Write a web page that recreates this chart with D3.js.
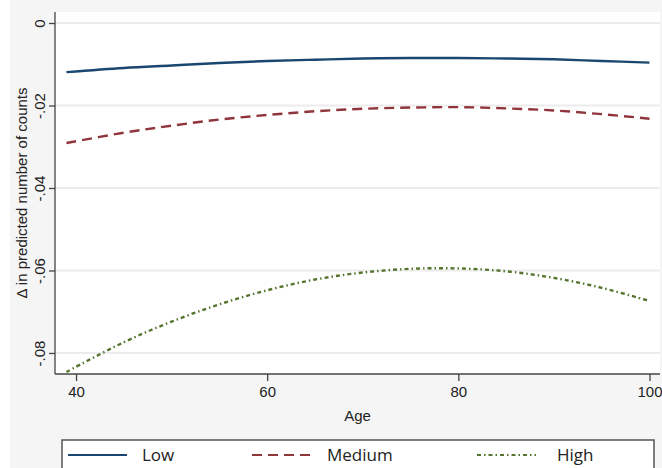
<!DOCTYPE html>
<html>
<head>
<meta charset="utf-8">
<script src="https://cdn.jsdelivr.net/npm/d3@7"></script>
<style>
  body { margin: 0; background: #fff; }
  text { font-family: "Liberation Sans", Arial, sans-serif; fill: #222; }
  .legend text { font-family: "Open Sans", sans-serif; }
</style>
</head>
<body>
<div id="chart"></div>
<script>
// data
const ages = [39, 45, 50, 55, 60, 65, 70, 75, 80, 85, 90, 95, 100];
const low = [-0.0119, -0.0109, -0.0103, -0.0097, -0.0092, -0.0089, -0.0086, -0.0085, -0.0085, -0.0086, -0.0088, -0.0092, -0.0096];
const medium = [-0.0291, -0.0266, -0.0249, -0.0234, -0.0223, -0.0214, -0.0208, -0.0205, -0.0204, -0.0207, -0.0212, -0.0221, -0.0232];
const high = [-0.0846, -0.0774, -0.0724, -0.0682, -0.0648, -0.0622, -0.0605, -0.0596, -0.0595, -0.0602, -0.0618, -0.0642, -0.0674];
const seriesNames = ["Low", "Medium", "High"];
const xTicks = [40, 60, 80, 100];
const yTicks = [0, -0.02, -0.04, -0.06, -0.08];
const yTickLabels = ["0", "-.02", "-.04", "-.06", "-.08"];

const W = 662, H = 468;
const plotL = 55, plotR = 660, plotT = 12, plotB = 374;

const svg = d3.select("#chart").append("svg").attr("width", W).attr("height", H);

// backgrounds
svg.append("rect").attr("x", 10).attr("y", 0).attr("width", W - 10).attr("height", H).attr("fill", "#f5f5f5");
svg.append("rect").attr("x", plotL).attr("y", plotT).attr("width", plotR - plotL).attr("height", plotB - plotT).attr("fill", "#fff");

// scales
const x = d3.scaleLinear().domain([37.8, 101.1]).range([plotL, plotR]);
const y = d3.scaleLinear().domain([-0.0851, 0.00267]).range([plotB, plotT]);

// grid
svg.append("g").selectAll("line").data(yTicks).join("line")
  .attr("x1", plotL).attr("x2", plotR)
  .attr("y1", d => y(d)).attr("y2", d => y(d))
  .attr("stroke", "#ececec").attr("stroke-width", 2);

// y axis
const yAxis = svg.append("g").attr("transform", `translate(${plotL},0)`)
  .call(d3.axisLeft(y).tickValues(yTicks).tickSize(6).tickFormat((d, i) => yTickLabels[i]));
yAxis.select(".domain").attr("stroke", "#444").attr("stroke-width", 1.3).attr("d", `M0,${plotT}V${plotB}`);
yAxis.selectAll(".tick line").attr("stroke", "#444").attr("stroke-width", 1.3);
yAxis.selectAll(".tick text")
  .attr("x", null).attr("dy", null)
  .attr("transform", "translate(-10,0) rotate(-90)")
  .attr("text-anchor", "middle")
  .style("font-size", "15px").style("font-family", "Liberation Sans, Arial, sans-serif").attr("fill", "#222");

// x axis
const xAxis = svg.append("g").attr("transform", `translate(0,${plotB})`)
  .call(d3.axisBottom(x).tickValues(xTicks).tickSize(7).tickPadding(5));
xAxis.select(".domain").attr("stroke", "#444").attr("stroke-width", 1.3).attr("d", `M${plotL},0H${plotR}`);
xAxis.selectAll(".tick line").attr("stroke", "#444").attr("stroke-width", 1.3);
xAxis.selectAll(".tick text").style("font-size", "15px").style("font-family", "Liberation Sans, Arial, sans-serif").attr("fill", "#222");

// axis titles
svg.append("text").attr("x", (plotL + plotR) / 2).attr("y", 421)
  .attr("text-anchor", "middle").style("font-size", "15px").text("Age");
svg.append("text").attr("transform", `translate(27,${(plotT + plotB) / 2}) rotate(-90)`)
  .attr("text-anchor", "middle").style("font-size", "15px").text("Δ in predicted number of counts");

// lines
const series = [
  { name: "Low", values: low, color: "#1a476f", dash: null },
  { name: "Medium", values: medium, color: "#90353b", dash: "10,6" },
  { name: "High", values: high, color: "#55752f", dash: "4,3,1.5,3" }
];

const line = d3.line()
  .x((d, i) => x(ages[i]))
  .y(d => y(d))
  .curve(d3.curveCatmullRom);

svg.append("g").selectAll("path").data(series).join("path")
  .attr("d", d => line(d.values))
  .attr("fill", "none")
  .attr("stroke", d => d.color)
  .attr("stroke-width", 2.4)
  .attr("stroke-dasharray", d => d.dash);

// legend
const legend = svg.append("g").attr("class", "legend");
legend.append("rect").attr("x", 62).attr("y", 440).attr("width", 592).attr("height", 40)
  .attr("fill", "#fff").attr("stroke", "#555").attr("stroke-width", 1.5);
const legX = [68, 252, 477];
const item = legend.selectAll("g.item").data(series).join("g").attr("class", "item")
  .attr("transform", (d, i) => `translate(${legX[i]},455)`);
item.append("line").attr("x1", 0).attr("x2", 59).attr("y1", 0).attr("y2", 0)
  .attr("stroke", d => d.color).attr("stroke-width", 2)
  .attr("stroke-dasharray", d => d.dash);
item.append("text").attr("x", (d, i) => [74, 75, 80][i]).attr("y", 6)
  .style("font-size", "17px").text((d, i) => seriesNames[i]);
</script>
</body>
</html>
